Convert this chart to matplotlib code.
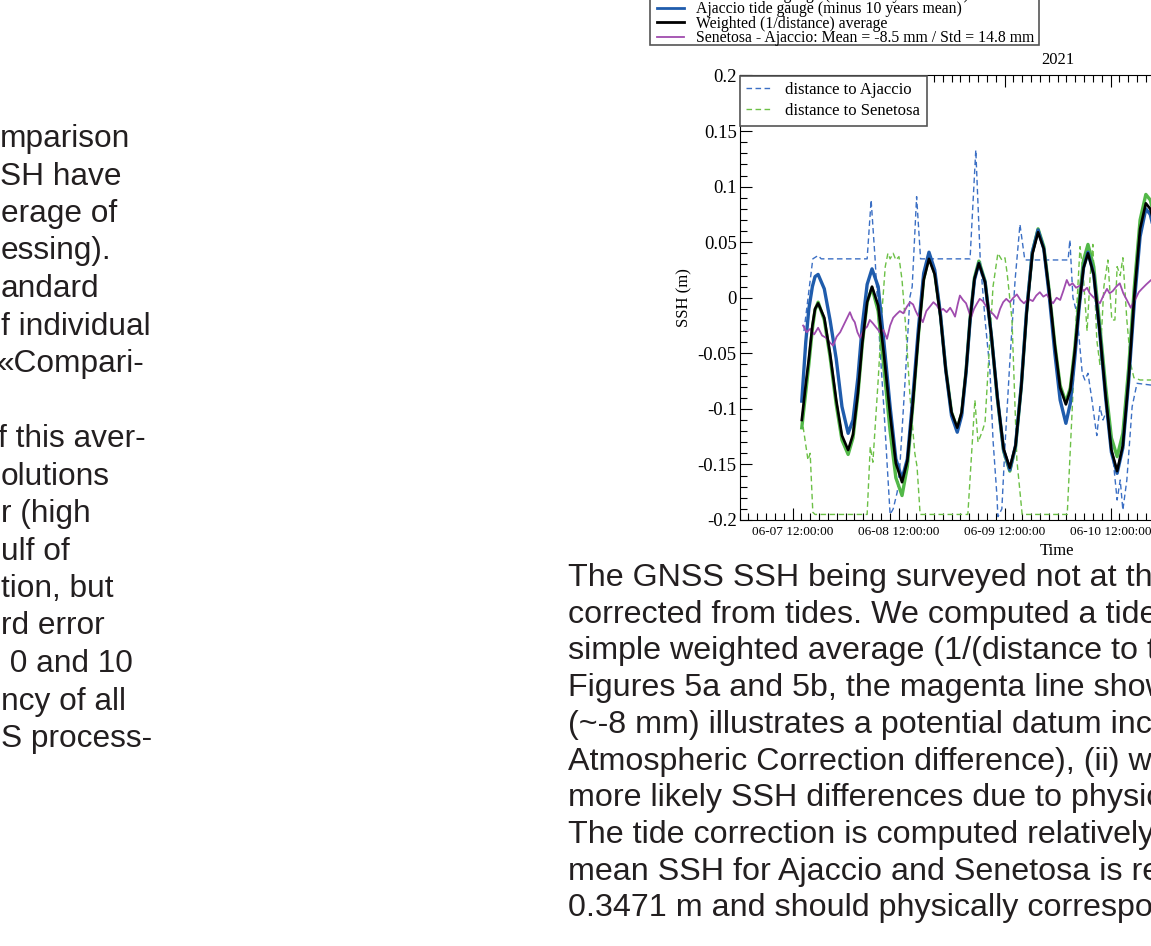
import datetime as dt
import matplotlib
matplotlib.use("Agg")
from matplotlib import pyplot as plt
from matplotlib import dates as mdates
from matplotlib.patches import Rectangle
from matplotlib.ticker import MultipleLocator, FuncFormatter

# hours after 2021-06-07 00:00 ; SSH in metres
tide_hours = [14.1, 15.0, 15.7, 16.5, 17.1, 17.8, 19.2, 20.5, 21.9, 23.2,
              24.6, 25.7, 26.8, 27.8, 28.9, 30.0, 31.4, 32.7, 34.1, 35.4,
              36.8, 38.0, 39.2, 40.5, 41.7, 42.9, 44.2, 45.5, 46.7, 48.0,
              49.3, 50.3, 51.3, 52.2, 53.2, 54.2, 55.6, 57.0, 58.4, 59.8,
              61.2, 62.5, 63.8, 65.0, 66.3, 67.6, 68.9, 70.1, 71.4, 72.6,
              73.9, 74.9, 75.9, 76.9, 77.9, 78.9, 80.2, 81.5, 82.9, 84.2,
              85.5, 86.8, 88.1, 89.4, 90.7, 92.0, 93.0, 94.0]
weighted_avg = [-0.110, -0.078, -0.055, -0.025, -0.010, -0.005, -0.018, -0.050, -0.092, -0.124,
                -0.137, -0.123, -0.086, -0.041, -0.004, 0.010, -0.007, -0.051, -0.105, -0.149,
                -0.166, -0.147, -0.097, -0.034, 0.016, 0.035, 0.021, -0.017, -0.065, -0.103,
                -0.117, -0.103, -0.066, -0.020, 0.017, 0.031, 0.014, -0.033, -0.090, -0.136,
                -0.153, -0.133, -0.080, -0.014, 0.039, 0.059, 0.044, 0.006, -0.043, -0.081,
                -0.096, -0.083, -0.049, -0.007, 0.027, 0.040, 0.021, -0.028, -0.088, -0.137,
                -0.156, -0.133, -0.073, 0.002, 0.062, 0.085, 0.080, 0.065]
ajaccio_tg = [-0.093, -0.040, -0.010, 0.010, 0.019, 0.021, 0.008, -0.020, -0.055, -0.098,
              -0.122, -0.110, -0.072, -0.025, 0.012, 0.026, 0.010, -0.040, -0.098, -0.145,
              -0.163, -0.145, -0.092, -0.028, 0.022, 0.041, 0.025, -0.015, -0.065, -0.106,
              -0.121, -0.106, -0.067, -0.021, 0.016, 0.031, 0.014, -0.033, -0.090, -0.137,
              -0.155, -0.133, -0.079, -0.012, 0.041, 0.061, 0.044, 0.003, -0.050, -0.092,
              -0.113, -0.095, -0.055, -0.009, 0.027, 0.041, 0.021, -0.029, -0.090, -0.139,
              -0.158, -0.135, -0.076, -0.004, 0.055, 0.080, 0.075, 0.058]
senetosa_tg = [-0.117, -0.085, -0.060, -0.028, -0.011, -0.004, -0.020, -0.053, -0.096, -0.128,
               -0.141, -0.126, -0.088, -0.042, -0.004, 0.009, -0.012, -0.063, -0.120, -0.162,
               -0.178, -0.152, -0.099, -0.034, 0.017, 0.037, 0.022, -0.016, -0.064, -0.103,
               -0.118, -0.104, -0.066, -0.019, 0.018, 0.033, 0.015, -0.033, -0.091, -0.138,
               -0.156, -0.134, -0.080, -0.013, 0.041, 0.062, 0.046, 0.007, -0.042, -0.079,
               -0.094, -0.081, -0.046, -0.002, 0.034, 0.048, 0.028, -0.022, -0.080, -0.126,
               -0.143, -0.122, -0.064, 0.010, 0.070, 0.093, 0.088, 0.072]

diff_hours = [14.4, 15.2, 16.0, 16.9, 17.8, 18.7, 19.6, 20.4, 21.2, 22.0,
              22.8, 23.9, 25.0, 25.6, 26.1, 26.7, 27.3, 28.1, 28.9, 29.5,
              30.2, 31.0, 31.8, 32.6, 33.4, 34.1, 34.8, 35.5, 36.3, 37.1,
              37.9, 38.6, 39.3, 39.9, 40.4, 41.0, 41.5, 42.3, 43.1, 43.9,
              44.7, 45.4, 46.1, 46.9, 47.7, 48.3, 48.8, 49.4, 49.9, 50.6,
              51.3, 51.9, 52.4, 53.1, 53.8, 54.4, 55.1, 55.9, 56.7, 57.5,
              58.3, 59.0, 59.7, 60.4, 61.2, 62.0, 62.8, 63.6, 64.4, 65.4,
              66.4, 67.2, 68.0, 68.8, 69.6, 70.3, 71.0, 71.8, 72.6, 73.3,
              74.1, 74.7, 75.4, 76.2, 77.1, 77.9, 78.7, 79.3, 80.0, 80.8,
              81.6, 82.4, 83.2, 83.8, 84.5, 85.3, 86.1, 86.9, 87.7, 88.6,
              89.2, 89.8, 90.4, 91.1, 92.1, 93.2, 94.0]
senetosa_minus_ajaccio = [-0.025, -0.031, -0.028, -0.033, -0.027, -0.034, -0.036, -0.040, -0.043, -0.035,
                          -0.031, -0.022, -0.013, -0.019, -0.022, -0.031, -0.036, -0.029, -0.026, -0.020,
                          -0.023, -0.027, -0.031, -0.029, -0.037, -0.025, -0.018, -0.015, -0.012, -0.014,
                          -0.008, -0.004, -0.006, -0.012, -0.016, -0.018, -0.022, -0.012, -0.008, -0.004,
                          -0.007, -0.012, -0.010, -0.013, -0.009, -0.013, -0.017, -0.006, 0.002, -0.002,
                          -0.005, -0.012, -0.018, -0.010, -0.005, -0.001, -0.003, -0.008, -0.012, -0.015,
                          -0.019, -0.010, -0.004, -0.001, -0.004, 0.000, 0.003, -0.002, -0.005, -0.001,
                          -0.003, 0.002, 0.005, 0.001, 0.003, -0.002, -0.005, 0.000, -0.002, 0.006,
                          0.016, 0.011, 0.013, 0.009, 0.011, 0.006, 0.009, 0.004, 0.001, -0.002,
                          -0.005, 0.002, 0.008, 0.004, 0.006, 0.010, 0.013, 0.004, -0.002, -0.009,
                          -0.004, 0.000, 0.005, 0.008, 0.012, 0.016, 0.017]

dist_ajaccio_hours = [14.6, 16.6, 17.8, 18.5, 28.9, 29.8, 30.7, 31.8, 32.7, 33.4,
                      34.1, 34.8, 35.7, 36.3, 37.5, 38.6, 39.1, 40.1, 41.0, 52.2,
                      53.5, 54.5, 55.6, 56.7, 57.4, 58.3, 58.5, 59.4, 60.1, 61.2,
                      62.4, 63.5, 64.6, 74.4, 74.8, 75.5, 76.4, 77.6, 78.2, 78.9,
                      79.8, 80.5, 80.9, 81.6, 82.3, 83.2, 83.9, 84.6, 85.5, 86.2,
                      86.8, 87.7, 88.9, 90.0, 94.0]
dist_ajaccio = [-0.030, 0.035, 0.038, 0.035, 0.035, 0.088, 0.035, -0.045, -0.100, -0.148,
                -0.195, -0.190, -0.175, -0.152, -0.074, 0.001, 0.010, 0.091, 0.035, 0.035,
                0.133, 0.035, -0.020, -0.065, -0.128, -0.179, -0.197, -0.190, -0.134, -0.058,
                0.016, 0.066, 0.034, 0.034, 0.052, 0.000, -0.014, -0.068, -0.074, -0.068,
                -0.092, -0.113, -0.124, -0.098, -0.110, -0.101, -0.125, -0.146, -0.182, -0.164,
                -0.191, -0.164, -0.098, -0.077, -0.079]

dist_senetosa_hours = [14.4, 15.5, 16.0, 16.6, 17.1, 28.9, 29.6, 30.2, 31.4, 32.3,
                       33.0, 33.6, 34.1, 34.8, 35.4, 36.1, 36.8, 37.7, 38.6, 39.7,
                       40.2, 40.9, 51.7, 52.4, 53.3, 54.0, 54.9, 55.6, 56.5, 57.4,
                       58.5, 59.4, 60.1, 60.6, 61.7, 62.8, 64.0, 74.2, 75.3, 76.2,
                       77.1, 77.8, 78.7, 79.4, 80.0, 80.9, 81.6, 82.5, 83.4, 84.3,
                       85.0, 85.5, 86.2, 86.8, 87.7, 88.6, 89.3, 90.7, 94.0]
dist_senetosa = [-0.116, -0.146, -0.140, -0.193, -0.195, -0.195, -0.134, -0.148, -0.074, -0.010,
                 0.028, 0.040, 0.035, 0.040, 0.034, 0.037, 0.016, -0.030, -0.089, -0.140,
                 -0.152, -0.195, -0.195, -0.150, -0.092, -0.130, -0.121, -0.112, -0.050, 0.010,
                 0.040, 0.034, 0.036, 0.022, -0.020, -0.146, -0.195, -0.195, -0.103, -0.020,
                 0.046, 0.022, -0.030, 0.020, 0.048, -0.038, -0.060, 0.010, 0.034, -0.020,
                 -0.020, 0.028, 0.020, 0.036, -0.020, -0.060, -0.072, -0.074, -0.074]

legend_labels = ["Senetosa tide gauge (minus 10 years mean)",
                 "Ajaccio tide gauge (minus 10 years mean)",
                 "Weighted (1/distance) average",
                 "Senetosa - Ajaccio: Mean = -8.5 mm / Std = 14.8 mm"]
dist_labels = ["distance to Ajaccio", "distance to Senetosa"]

# text of the neighbouring page column, cut by the crop on its left
left_column = ["mparison", "SH have", "erage of", "essing).", "andard", "f individual",
               "\u00abCompari-", "", "f this aver-", "olutions", "r (high", "ulf of",
               "tion, but", "rd error", " 0 and 10", "ncy of all", "S process-"]
left_start = [0, 0, 1, 1, 1, 1, -3, 0, -2, 1, 1, 1, 1, 1, 1, 1, 1]

body_lines = ["The GNSS SSH being surveyed not at the tide gauge location",
              "corrected from tides. We computed a tide correction using a",
              "simple weighted average (1/(distance to the tide gauges)) of",
              "Figures 5a and 5b, the magenta line shows the difference",
              "(~-8 mm) illustrates a potential datum inconsistency (i)",
              "Atmospheric Correction difference), (ii) which could be",
              "more likely SSH differences due to physical processes",
              "The tide correction is computed relatively to the",
              "mean SSH for Ajaccio and Senetosa is respectively",
              "0.3471 m and should physically correspond to the"]

W, H = 1151, 946
t0 = dt.datetime(2021, 6, 7)


def to_dates(hours):
    return [t0 + dt.timedelta(hours=h) for h in hours]


SERIF = "Liberation Serif"
SANS = "Liberation Sans"

fig = plt.figure(figsize=(W / 100, H / 100), dpi=100)
ax = fig.add_axes([739.5 / W, 1 - 520 / H, 636 / W, 444.5 / H])

l_da, = ax.plot(to_dates(dist_ajaccio_hours), dist_ajaccio, "--", color="#3b6fc4", lw=1.0, dashes=(4, 2.5))
l_ds, = ax.plot(to_dates(dist_senetosa_hours), dist_senetosa, "--", color="#6cc046", lw=1.0, dashes=(4, 2.5))
l_sen, = ax.plot(to_dates(tide_hours), senetosa_tg, color="#52b848", lw=2.4)
l_aja, = ax.plot(to_dates(tide_hours), ajaccio_tg, color="#1f5cac", lw=2.4)
l_dif, = ax.plot(to_dates(diff_hours), senetosa_minus_ajaccio, color="#a04cae", lw=1.3)
l_avg, = ax.plot(to_dates(tide_hours), weighted_avg, color="black", lw=1.9)

ax.set_xlim(t0, t0 + dt.timedelta(hours=144))
ax.set_ylim(-0.2, 0.2)
ax.xaxis.set_major_locator(mdates.HourLocator(byhour=[12]))
ax.xaxis.set_minor_locator(mdates.HourLocator(byhour=range(0, 24, 2)))
ax.xaxis.set_major_formatter(mdates.DateFormatter("%m-%d %H:%M:%S"))
ax.yaxis.set_major_locator(MultipleLocator(0.05))
ax.yaxis.set_minor_locator(MultipleLocator(0.01))
ax.yaxis.set_major_formatter(FuncFormatter(lambda v, p: "%g" % round(v, 3)))
ax.tick_params(which="both", direction="in", top=True, right=True, width=0.8)
ax.tick_params(which="major", length=8.5)
ax.tick_params(which="minor", length=5)
ax.tick_params(axis="x", labelsize=9.5, pad=4)
ax.tick_params(axis="y", labelsize=13.5, pad=2)
for lab in ax.get_xticklabels() + ax.get_yticklabels():
    lab.set_family(SERIF)
for sp in ax.spines.values():
    sp.set_linewidth(0.8)

ax.set_title("2021", fontsize=12, family=SERIF, pad=8)
ax.set_xlabel("Time", fontsize=12, family=SERIF, labelpad=4)
ax.set_ylabel("SSH (m)", fontsize=12, family=SERIF, labelpad=4)

leg_in = ax.legend([l_da, l_ds], dist_labels, loc="upper left", borderaxespad=0,
                   fancybox=False, edgecolor="#555555", framealpha=1,
                   prop={"family": SERIF, "size": 12}, handlelength=1.6,
                   handletextpad=0.75, labelspacing=0.3, borderpad=0.4)
leg_in.get_frame().set_linewidth(1.2)

# frame of the top legend (its upper part lies above the page crop)
fig.patches.append(Rectangle((650 / W, 1 - 45 / H), 389 / W, 60 / H,
                             transform=fig.transFigure, facecolor="white",
                             edgecolor="#555555", lw=1.2, zorder=1))
leg_top = fig.legend([l_sen, l_aja, l_avg, l_dif], legend_labels, loc="lower left",
                     bbox_to_anchor=(657 / W, 1 - 46 / H), borderaxespad=0,
                     frameon=False, prop={"family": SERIF, "size": 11.3},
                     handlelength=1.7, handletextpad=0.8, labelspacing=-0.1,
                     borderpad=0.0)
leg_top.set_zorder(2)
for h in leg_top.legend_handles[:3]:
    h.set_linewidth(2.0)

for i, (s, x0) in enumerate(zip(left_column, left_start)):
    if s:
        fig.text(x0 / W, 1 - (147 + 37.5 * i) / H, s, ha="left", va="baseline",
                 fontsize=22.8, family=SANS, color="#231f20")

for i, s in enumerate(body_lines):
    fig.text(568 / W, 1 - (586 + 36.7 * i) / H, s, ha="left", va="baseline",
             fontsize=23.2, family=SANS, color="#231f20")

fig.savefig("out.png", dpi=100)
